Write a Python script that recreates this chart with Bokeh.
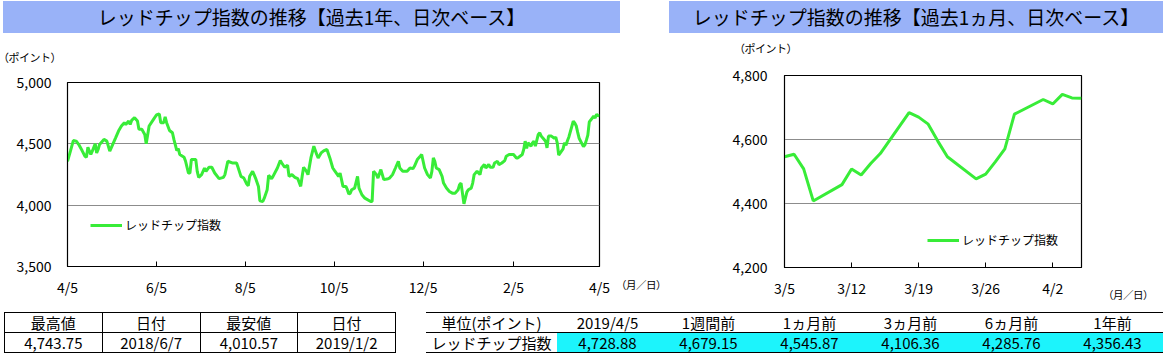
import pandas as pd
from bokeh.plotting import figure
from bokeh.models import (Range1d, FixedTicker, NumeralTickFormatter, CustomJSTickFormatter,
                          Legend, LegendItem, Div, ColumnDataSource)
from bokeh.layouts import row, column
from bokeh.embed import file_html
from bokeh.resources import INLINE

FONT = "Noto Sans CJK JP"
GREEN = "#38EC38"
TITLE_BG = "#99B2F8"
CYAN = "#1CF4FC"

# ---------------- data ----------------
year_dates = [
    "2018-04-05", "2018-04-07", "2018-04-09", "2018-04-11", "2018-04-13", "2018-04-15", "2018-04-17",
    "2018-04-18", "2018-04-19", "2018-04-20", "2018-04-21", "2018-04-22", "2018-04-24", "2018-04-25",
    "2018-04-26", "2018-04-27", "2018-04-30", "2018-05-02", "2018-05-04", "2018-05-05", "2018-05-08",
    "2018-05-10", "2018-05-12", "2018-05-14", "2018-05-15", "2018-05-17", "2018-05-18", "2018-05-19",
    "2018-05-21", "2018-05-23", "2018-05-24", "2018-05-26", "2018-05-28", "2018-05-29", "2018-05-31",
    "2018-06-03", "2018-06-05", "2018-06-07", "2018-06-08", "2018-06-10", "2018-06-11", "2018-06-12",
    "2018-06-14", "2018-06-16", "2018-06-17", "2018-06-19", "2018-06-20", "2018-06-21", "2018-06-24",
    "2018-06-25", "2018-06-27", "2018-06-28", "2018-06-29", "2018-07-02", "2018-07-03", "2018-07-04",
    "2018-07-06", "2018-07-08", "2018-07-09", "2018-07-11", "2018-07-13", "2018-07-15", "2018-07-18",
    "2018-07-21", "2018-07-22", "2018-07-24", "2018-07-27", "2018-07-30", "2018-07-31", "2018-08-02",
    "2018-08-04", "2018-08-06", "2018-08-07", "2018-08-08", "2018-08-10", "2018-08-11", "2018-08-12",
    "2018-08-14", "2018-08-15", "2018-08-17", "2018-08-18", "2018-08-20", "2018-08-21", "2018-08-23",
    "2018-08-24", "2018-08-27", "2018-08-29", "2018-08-30", "2018-09-01", "2018-09-03", "2018-09-04",
    "2018-09-06", "2018-09-08", "2018-09-10", "2018-09-12", "2018-09-13", "2018-09-14", "2018-09-16",
    "2018-09-17", "2018-09-19", "2018-09-21", "2018-09-23", "2018-09-24", "2018-09-26", "2018-09-28",
    "2018-09-30", "2018-10-02", "2018-10-04", "2018-10-05", "2018-10-08", "2018-10-09", "2018-10-10",
    "2018-10-11", "2018-10-13", "2018-10-14", "2018-10-15", "2018-10-16", "2018-10-17", "2018-10-19",
    "2018-10-21", "2018-10-22", "2018-10-24", "2018-10-26", "2018-10-30", "2018-10-31", "2018-11-01",
    "2018-11-03", "2018-11-04", "2018-11-06", "2018-11-07", "2018-11-08", "2018-11-11", "2018-11-12",
    "2018-11-14", "2018-11-16", "2018-11-18", "2018-11-19", "2018-11-21", "2018-11-23", "2018-11-24",
    "2018-11-26", "2018-11-28", "2018-11-29", "2018-12-01", "2018-12-03", "2018-12-04", "2018-12-05",
    "2018-12-06", "2018-12-08", "2018-12-10", "2018-12-11", "2018-12-12", "2018-12-13", "2018-12-14",
    "2018-12-16", "2018-12-18", "2018-12-19", "2018-12-21", "2018-12-23", "2018-12-25", "2018-12-27",
    "2018-12-29", "2018-12-30", "2018-12-31", "2019-01-02", "2019-01-04", "2019-01-05", "2019-01-07",
    "2019-01-08", "2019-01-09", "2019-01-11", "2019-01-13", "2019-01-14", "2019-01-16", "2019-01-17",
    "2019-01-19", "2019-01-20", "2019-01-22", "2019-01-23", "2019-01-25", "2019-01-26", "2019-01-28",
    "2019-01-30", "2019-01-31", "2019-02-02", "2019-02-05", "2019-02-07", "2019-02-08", "2019-02-11",
    "2019-02-12", "2019-02-13", "2019-02-14", "2019-02-15", "2019-02-17", "2019-02-18", "2019-02-19",
    "2019-02-20", "2019-02-22", "2019-02-23", "2019-02-24", "2019-02-25", "2019-02-27", "2019-02-28",
    "2019-03-01", "2019-03-03",
]
year_values = [
    4356.43, 4440, 4527, 4522, 4489, 4445, 4399,
    4391, 4473, 4440, 4413, 4440, 4500, 4426,
    4454, 4495, 4536, 4522, 4440, 4467, 4549,
    4604, 4645, 4672, 4658, 4686, 4658, 4691,
    4713, 4686, 4618, 4618, 4577, 4500, 4645,
    4699, 4735, 4743.75, 4672, 4672, 4719, 4672,
    4609, 4590, 4536, 4445, 4462, 4413, 4391,
    4358, 4262, 4262, 4372, 4372, 4276, 4227,
    4249, 4303, 4276, 4309, 4309, 4262, 4216,
    4227, 4249, 4358, 4344, 4344, 4309, 4235,
    4221, 4172, 4159, 4235, 4276, 4249, 4221,
    4153, 4036, 4030, 4057, 4126, 4243, 4216,
    4235, 4303, 4363, 4344, 4309, 4325, 4235,
    4249, 4227, 4216, 4153, 4235, 4309, 4276,
    4249, 4385, 4481, 4413, 4385, 4426, 4445,
    4454, 4385, 4303, 4285.76, 4235, 4262, 4208,
    4153, 4153, 4126, 4090, 4098, 4126, 4139,
    4235, 4139, 4085, 4057, 4030, 4030, 4276,
    4249, 4221, 4290, 4249, 4208, 4216, 4221,
    4249, 4303, 4358, 4303, 4276, 4276, 4276,
    4303, 4298, 4317, 4372, 4399, 4413, 4358,
    4303, 4249, 4221, 4276, 4385, 4358, 4303,
    4290, 4235, 4180, 4139, 4112, 4098, 4098,
    4126, 4167, 4180, 4010.57, 4106.36, 4126, 4139,
    4180, 4249, 4276, 4249, 4303, 4331, 4303,
    4331, 4309, 4309, 4344, 4358, 4331, 4344,
    4363, 4399, 4413, 4413, 4385, 4385, 4413,
    4454, 4522, 4462, 4508, 4481, 4508, 4522,
    4481, 4577, 4590, 4563, 4549, 4522, 4467,
    4563, 4563,
]

month_dates = [
    "2019-03-05", "2019-03-06", "2019-03-07", "2019-03-08", "2019-03-11", "2019-03-12", "2019-03-13",
    "2019-03-14", "2019-03-15", "2019-03-18", "2019-03-19", "2019-03-20", "2019-03-21", "2019-03-22",
    "2019-03-25", "2019-03-26", "2019-03-27", "2019-03-28", "2019-03-29", "2019-04-01", "2019-04-02",
    "2019-04-03", "2019-04-04", "2019-04-05",
]
month_values = [
    4545.87, 4554, 4508, 4408, 4459, 4508, 4489,
    4525, 4556, 4684, 4670, 4648, 4595, 4546,
    4477, 4492, 4530, 4571, 4679.15, 4725, 4711,
    4741, 4730, 4728.88,
]

year_ticks = ["2018-04-05", "2018-06-05", "2018-08-05", "2018-10-05", "2018-12-05", "2019-02-05", "2019-04-05"]
year_tick_labels = ["4/5", "6/5", "8/5", "10/5", "12/5", "2/5", "4/5"]
month_ticks = ["2019-03-05", "2019-03-12", "2019-03-19", "2019-03-26", "2019-04-02"]
month_tick_labels = ["3/5", "3/12", "3/19", "3/26", "4/2"]

year_y_ticks = [3500, 4000, 4500, 5000]
month_y_ticks = [4200, 4400, 4600, 4800]

series_name = "レッドチップ指数"
title_year = "レッドチップ指数の推移【過去1年、日次ベース】"
title_month = "レッドチップ指数の推移【過去1ヵ月、日次ベース】"

hl_headers = ["最高値", "日付", "最安値", "日付"]
hl_values = ["4,743.75", "2018/6/7", "4,010.57", "2019/1/2"]

cmp_unit = "単位(ポイント)"
cmp_headers = ["2019/4/5", "1週間前", "1ヵ月前", "3ヵ月前", "6ヵ月前", "1年前"]
cmp_values = ["4,728.88", "4,679.15", "4,545.87", "4,106.36", "4,285.76", "4,356.43"]

# ---------------- helpers ----------------
EPOCH = pd.Timestamp("1970-01-01")


def to_ms(s):
    return float((pd.Timestamp(s) - EPOCH) / pd.Timedelta(milliseconds=1))


def make_chart(dates, values, x0, x1, xticks, xlabels, yticks, width, height,
               bl, br, bt, bb, ystand, legend_loc):
    src = ColumnDataSource(dict(x=pd.to_datetime(dates), y=values))
    p = figure(width=width, height=height, x_axis_type="datetime",
               x_range=Range1d(pd.Timestamp(x0), pd.Timestamp(x1)),
               y_range=Range1d(yticks[0], yticks[-1]),
               output_backend="svg", toolbar_location=None,
               min_border_left=bl, min_border_right=br, min_border_top=bt, min_border_bottom=bb)
    p.background_fill_color = "white"
    p.border_fill_color = "white"
    p.outline_line_color = "black"
    p.outline_line_width = 1.2
    p.outline_line_alpha = 1

    r = p.line("x", "y", source=src, line_color=GREEN, line_width=3)

    tick_ms = [to_ms(t) for t in xticks]
    p.xaxis.ticker = FixedTicker(ticks=tick_ms)
    p.xaxis.formatter = CustomJSTickFormatter(
        args=dict(tvals=tick_ms, tlabels=xlabels),
        code="const i = tvals.indexOf(tick); return i >= 0 ? tlabels[i] : '';")
    p.xaxis.major_tick_in = 5
    p.xaxis.major_tick_out = 0
    p.xaxis.minor_tick_line_color = None
    p.xaxis.axis_line_color = "black"
    p.xaxis.major_tick_line_color = "black"
    p.xaxis.major_label_standoff = 10
    p.xaxis.major_label_text_font = FONT
    p.xaxis.major_label_text_font_size = "14px"
    p.xaxis.major_label_text_color = "black"

    p.yaxis.ticker = FixedTicker(ticks=yticks)
    p.yaxis.formatter = NumeralTickFormatter(format="0,0")
    p.yaxis.major_tick_in = 0
    p.yaxis.major_tick_out = 0
    p.yaxis.minor_tick_line_color = None
    p.yaxis.axis_line_color = "black"
    p.yaxis.major_label_standoff = ystand
    p.yaxis.major_label_text_font = FONT
    p.yaxis.major_label_text_font_size = "14px"
    p.yaxis.major_label_text_color = "black"

    p.xgrid.visible = False
    p.ygrid.ticker = FixedTicker(ticks=yticks[1:-1])
    p.ygrid.grid_line_color = "#8C8C8C"
    p.ygrid.grid_line_width = 1

    leg = Legend(items=[LegendItem(label=series_name, renderers=[r])],
                 location=legend_loc, orientation="vertical")
    leg.border_line_color = None
    leg.background_fill_alpha = 0
    leg.margin = 0
    leg.padding = 0
    leg.glyph_width = 32
    leg.glyph_height = 16
    leg.label_standoff = 3
    leg.label_text_font = FONT
    leg.label_text_font_size = "12px"
    leg.label_text_color = "black"
    p.add_layout(leg, "center")
    return p


def text_div(txt, w, h, top, left=0, size=11, spacing=0.0, margin=(0, 0, 0, 0)):
    html = (f'<div style="position:relative;width:{w}px;height:{h}px;">'
            f'<span style="position:absolute;top:{top}px;left:{left}px;white-space:nowrap;'
            f'letter-spacing:{spacing}px;'
            f'font-family:\'{FONT}\';font-size:{size}px;line-height:{size + 3}px;color:black;">{txt}</span></div>')
    return Div(text=html, width=w, height=h, margin=margin)


def title_div(txt, w, margin):
    html = (f'<div style="width:{w}px;height:32px;line-height:32px;text-align:center;background:{TITLE_BG};'
            f'font-family:\'{FONT}\';font-size:19px;color:black;white-space:nowrap;">{txt}</div>')
    return Div(text=html, width=w, height=32, margin=margin)


# ---------------- left block (x 0..666) ----------------
p_year = make_chart(year_dates + month_dates, year_values + month_values,
                    year_ticks[0], year_ticks[-1], year_ticks, year_tick_labels, year_y_ticks,
                    width=614, height=234, bl=67, br=15, bt=16, bb=34, ystand=16,
                    legend_loc=(23, 33))
left_col = column(
    title_div(title_year, 617, (1, 46, 0, 3)),
    text_div("（ポイント）", 666, 33, 17, -2, size=11, spacing=-0.5),
    row(p_year, text_div("（月／日）", 52, 234, 212, 2, size=10.5, spacing=-0.5), spacing=0),
    spacing=0,
)

# ---------------- right block (x 666..1167) ----------------
p_month = make_chart(month_dates, month_values,
                     month_ticks[0], "2019-04-05", month_ticks, month_tick_labels, month_y_ticks,
                     width=439, height=242, bl=118, br=24, bt=17, bb=30, ystand=17,
                     legend_loc=(143, 19))
right_col = column(
    title_div(title_month, 494, (1, 4, 0, 3)),
    text_div("（ポイント）", 501, 25, 8, 68, size=11, spacing=-0.5),
    row(p_month, text_div("（月／日）", 62, 242, 230, -2, size=10.5, spacing=-0.5), spacing=0),
    spacing=0,
)

# ---------------- tables ----------------
td = "border:1px solid black;text-align:center;padding:0;height:19px;line-height:19px;"
hl_rows = ("<tr>" + "".join(f'<td style="{td}width:97px;">{h}</td>' for h in hl_headers) + "</tr>"
           + "<tr>" + "".join(f'<td style="{td}width:97px;">{v}</td>' for v in hl_values) + "</tr>")
hl_html = (f'<table style="border-collapse:collapse;border:1.5px solid black;font-family:\'{FONT}\';'
           f'font-size:15px;color:black;width:392px;">{hl_rows}</table>')
hl_div = Div(text=hl_html, width=416, height=57, margin=(12, 0, 0, 4))

cs = "text-align:center;padding:0;height:19px;line-height:19px;"
head = (f'<tr style="border-top:1.5px solid black;border-bottom:1px solid black;">'
        f'<td style="{cs}width:131px;">{cmp_unit}</td>'
        + "".join(f'<td style="{cs}width:101px;">{h}</td>' for h in cmp_headers) + "</tr>")
body = (f'<tr style="border-bottom:1.5px solid black;">'
        f'<td style="{cs}width:131px;">{series_name}</td>'
        + "".join(f'<td style="{cs}width:101px;background:{CYAN};">{v}</td>' for v in cmp_values) + "</tr>")
cmp_html = (f'<table style="border-collapse:collapse;font-family:\'{FONT}\';font-size:15px;color:black;'
            f'width:737px;">{head}{body}</table>')
cmp_div = Div(text=cmp_html, width=737, height=57, margin=(12, 0, 0, 6))

layout = column(row(left_col, right_col, spacing=0), row(hl_div, cmp_div, spacing=0), spacing=0)

open("out.html", "w").write(file_html(layout, INLINE))
